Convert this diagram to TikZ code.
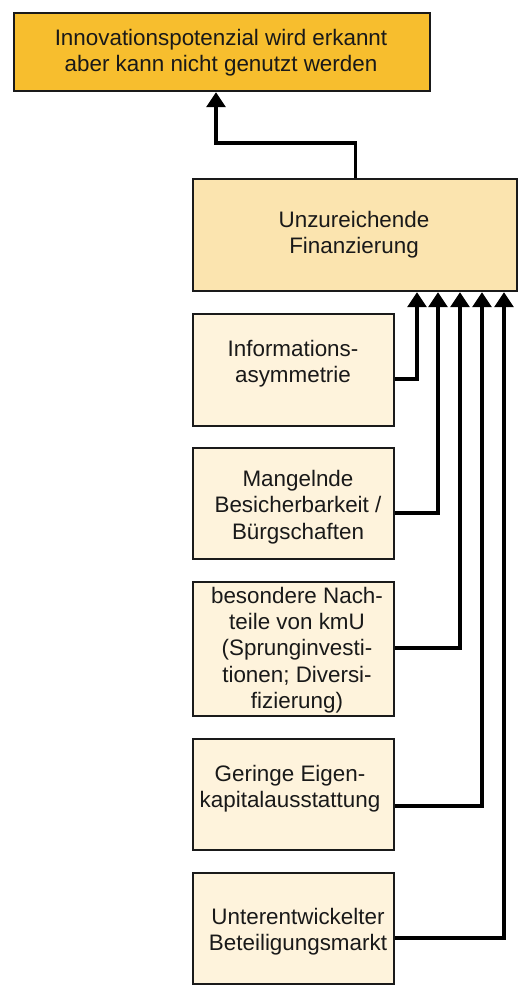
\documentclass[tikz,border=0pt]{standalone}
\usepackage{fontspec}
\setmainfont{Liberation Sans}
\usetikzlibrary{arrows.meta}
\definecolor{topfill}{HTML}{F7BE2E}
\definecolor{finfill}{HTML}{FBE4AF}
\definecolor{smallfill}{HTML}{FEF3DC}
\definecolor{edge}{HTML}{1A1A1A}
\begin{document}
\begin{tikzpicture}[x=1pt,y=-1pt,
  box/.style={draw=edge, line width=2.2pt, inner sep=0pt, anchor=north west},
  txt/.style={align=center, inner sep=0pt, font=\fontsize{22.4}{26.3}\selectfont, text=black!90},
  conn/.style={draw=black, line width=3.1pt, -{Triangle[width=19pt,length=15pt]}}]
\useasboundingbox (0,0) rectangle (518,989);
% boxes
\node[box, fill=topfill, minimum width=416pt, minimum height=78pt] (top) at (13,12) {};
\node[box, fill=finfill, minimum width=324pt, minimum height=112pt] (fin) at (192,178) {};
\node[box, fill=smallfill, minimum width=201pt, minimum height=112pt] (info) at (192,313) {};
\node[box, fill=smallfill, minimum width=201pt, minimum height=111pt] (mang) at (192,447) {};
\node[box, fill=smallfill, minimum width=201pt, minimum height=134pt] (bes) at (192,581) {};
\node[box, fill=smallfill, minimum width=201pt, minimum height=111pt] (ger) at (192,738) {};
\node[box, fill=smallfill, minimum width=201pt, minimum height=111pt] (unt) at (192,872) {};
% texts
\node[txt] (ttop) at (221,53) {Innovationspotenzial wird erkannt\\aber kann nicht genutzt werden};
\node[txt] (tfin) at (354,235) {Unzureichende\\Finanzierung};
\node[txt] (tinfo) at (293,363.5) {Informations-\\asymmetrie};
\node[txt] (tmang) at (298,507) {Mangelnde\\Besicherbarkeit /\\Bürgschaften};
\node[txt] (tbes) at (297,650) {besondere Nach-\\teile von kmU\\(Sprunginvesti-\\tionen; Diversi-\\fizierung)};
\node[txt] (tger) at (290,789) {Geringe Eigen-\\kapitalausstattung};
\node[txt] (tunt) at (298,932) {Unterentwickelter\\Beteiligungsmarkt};
% junction coordinates
\coordinate (k) at (216,143);
\coordinate (j1) at (417,379);
\coordinate (j2) at (438,513);
\coordinate (j3) at (460,648);
\coordinate (j4) at (482,806);
\coordinate (j5) at (504,938);
% connectors
\draw[conn] (fin.north) |- (k) -- (top.south -| k);
\draw[conn] (info.east |- j1) -| (fin.south -| j1);
\draw[conn] (mang.east |- j2) -| (fin.south -| j2);
\draw[conn] (bes.east |- j3) -| (fin.south -| j3);
\draw[conn] (ger.east |- j4) -| (fin.south -| j4);
\draw[conn] (unt.east |- j5) -| (fin.south -| j5);
\end{tikzpicture}
\end{document}
